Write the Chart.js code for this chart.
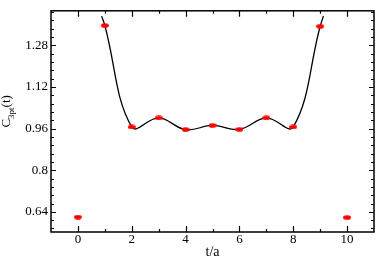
<!DOCTYPE html>
<html>
<head>
<meta charset="utf-8">
<script src="https://cdn.jsdelivr.net/npm/chart.js@4/dist/chart.umd.min.js"></script>
<style>
  html, body { margin: 0; padding: 0; background: #fff; }
  #wrap { width: 379px; height: 261px; }
</style>
</head>
<body>
<div id="wrap"><canvas id="c3pt"></canvas></div>
<script>
// DATA
const tValues = [0, 1, 2, 3, 4, 5, 6, 7, 8, 9, 10];
const c3ptValues = [0.620, 1.356, 0.966, 1.001, 0.956, 0.972, 0.957, 1.001, 0.966, 1.353, 0.618];

// fit curve: passes through t=1..9, ends just past them at the top
const fitT = [0.88, 1, 2, 3, 4, 5, 6, 7, 8, 9, 9.12];
const fitC = [1.392, 1.356, 0.966, 1.001, 0.956, 0.972, 0.957, 1.001, 0.966, 1.353, 1.392];

// ticks
const xTickLabels = [0, 2, 4, 6, 8, 10];
const xMinorTicks = [1, 3, 5, 7, 9];
const yTickLabels = [0.64, 0.8, 0.96, 1.12, 1.28];
const yMinorTicks = [0.576, 0.608, 0.672, 0.704, 0.736, 0.768, 0.832, 0.864, 0.896, 0.928,
                     0.992, 1.024, 1.056, 1.088, 1.152, 1.184, 1.216, 1.248, 1.312, 1.344, 1.376, 1.408];

// red oval marker
function makeMarker(){
  const c = document.createElement("canvas");
  c.width = 8; c.height = 5;
  const g = c.getContext("2d");
  g.fillStyle = "#ff0000";
  g.beginPath();
  g.ellipse(4, 2.5, 3.9, 2.3, 0, 0, Math.PI * 2);
  g.fill();
  return c;
}

// FRAME + INWARD TICKS
const framePlugin = {
  id: "frame",
  afterDraw(chart){
    const ctx = chart.ctx;
    const a = chart.chartArea;
    const xs = chart.scales.x, ys = chart.scales.y;
    ctx.save();
    ctx.strokeStyle = "#000";
    ctx.lineWidth = 1.5;
    ctx.strokeRect(a.left, a.top, a.right - a.left, a.bottom - a.top);
    ctx.lineWidth = 1.2;
    ctx.beginPath();
    function xt(v, len){
      const px = Math.round(xs.getPixelForValue(v)) + 0.5;
      ctx.moveTo(px, a.bottom); ctx.lineTo(px, a.bottom - len);
      ctx.moveTo(px, a.top); ctx.lineTo(px, a.top + len);
    }
    function yt(v, len){
      const py = Math.round(ys.getPixelForValue(v)) + 0.5;
      ctx.moveTo(a.left, py); ctx.lineTo(a.left + len, py);
      ctx.moveTo(a.right, py); ctx.lineTo(a.right - len, py);
    }
    xTickLabels.forEach(v => xt(v, 6));
    xMinorTicks.forEach(v => xt(v, 3));
    yTickLabels.forEach(v => yt(v, 5));
    yMinorTicks.forEach(v => yt(v, 3));
    ctx.stroke();

    // y title with subscript
    ctx.fillStyle = "#000";
    ctx.translate(10, (a.top + a.bottom) / 2 - 10);
    ctx.rotate(-Math.PI / 2);
    ctx.textBaseline = "alphabetic";
    const big = "13px 'Liberation Serif'", small = "9px 'Liberation Serif'";
    ctx.font = big; const wC = ctx.measureText("C").width; const wT = ctx.measureText("(t)").width;
    ctx.font = small; const wS = ctx.measureText("3pt").width;
    let x0 = -(wC + wS + wT) / 2;
    ctx.font = big; ctx.fillText("C", x0, 0);
    ctx.font = small; ctx.fillText("3pt", x0 + wC, 4);
    ctx.font = big; ctx.fillText("(t)", x0 + wC + wS, 0);
    ctx.restore();
  }
};

new Chart(document.getElementById("c3pt"), {
  type: "scatter",
  data: {
    datasets: [
      {
        label: "data",
        data: tValues.map((t, i) => ({x: t, y: c3ptValues[i]})),
        pointStyle: makeMarker(),
        order: 0
      },
      {
        label: "fit",
        data: fitT.map((t, i) => ({x: t, y: fitC[i]})),
        showLine: true,
        borderColor: "#000",
        borderWidth: 1.3,
        pointRadius: 0,
        tension: 0.4,
        order: 1
      }
    ]
  },
  plugins: [framePlugin],
  options: {
    responsive: true,
    maintainAspectRatio: false,
    animation: false,
    layout: { padding: { top: 1, right: 1, left: 0, bottom: 0 } },
    plugins: { legend: { display: false }, tooltip: { enabled: false } },
    scales: {
      x: {
        type: "linear",
        min: -1, max: 11,
        afterBuildTicks: s => { s.ticks = xTickLabels.map(v => ({value: v})); },
        afterFit: s => { s.height = 29; },
        grid: { display: false, drawTicks: false },
        border: { display: false },
        ticks: { color: "#000", padding: 0, font: { family: "'Liberation Serif'", size: 13 } },
        title: { display: true, text: "t/a", color: "#000", padding: { top: 2, bottom: 0 },
                 font: { family: "'Liberation Serif'", size: 14 } }
      },
      y: {
        type: "linear",
        min: 0.5625, max: 1.4125,
        afterBuildTicks: s => { s.ticks = yTickLabels.map(v => ({value: v})); },
        afterFit: s => { s.width = 51; },
        grid: { display: false, drawTicks: false },
        border: { display: false },
        ticks: { color: "#000", padding: 3, font: { family: "'Liberation Serif'", size: 13 },
                 callback: v => String(v) }
      }
    }
  }
});
</script>
</body>
</html>
